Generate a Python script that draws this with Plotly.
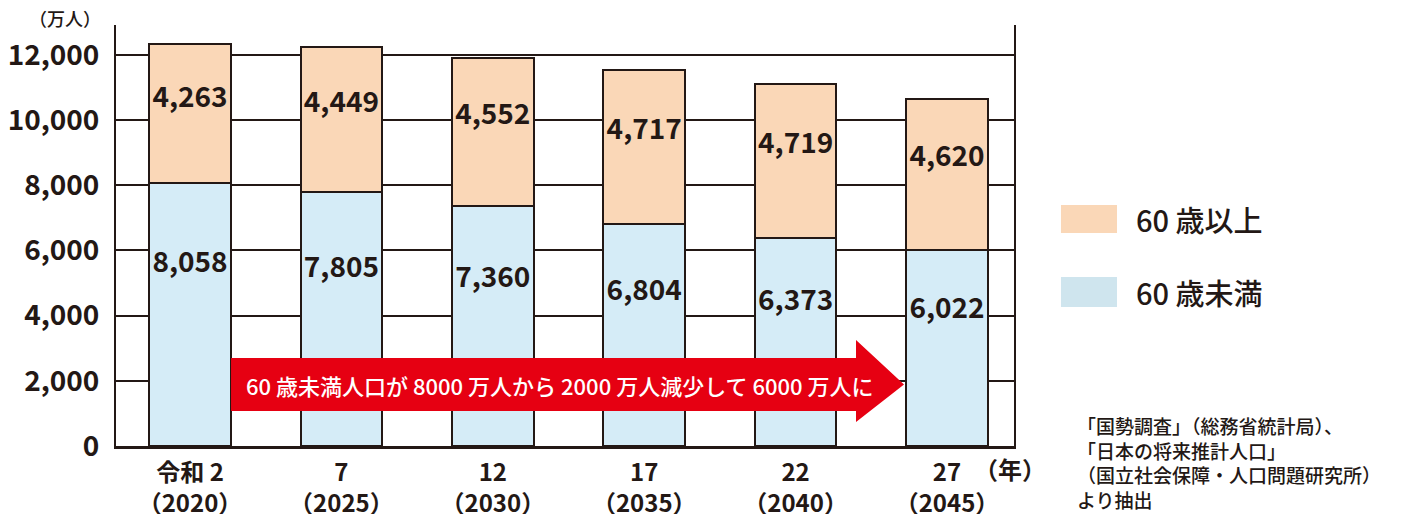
import plotly.graph_objects as go

# ---- data ----
year_labels = ["令和 2", "7", "12", "17", "22", "27"]
western_years = ["2020", "2025", "2030", "2035", "2040", "2045"]
under60 = [8058, 7805, 7360, 6804, 6373, 6022]
over60 = [4263, 4449, 4552, 4717, 4719, 4620]
series_names = ["60 歳以上", "60 歳未満"]
y_ticks = [0, 2000, 4000, 6000, 8000, 10000, 12000]
arrow_text = "60 歳未満人口が 8000 万人から 2000 万人減少して 6000 万人に"
source_lines = ["「国勢調査」（総務省統計局）、", "「日本の将来推計人口」",
                "（国立社会保障・人口問題研究所）", "より抽出"]

# ---- style ----
INK = "#231815"
PEACH = "#FAD7B7"
BLUE = "#D5ECF7"
LEG_BLUE = "#CFE5EE"
RED = "#E60012"
FONT = "Noto Sans CJK JP"

idx = list(range(len(year_labels)))
ticktext = [f"{a}<br>（{b}）" for a, b in zip(year_labels, western_years)]

fig = go.Figure()
fig.add_trace(go.Bar(x=idx, y=under60, name=series_names[1], width=0.54,
                     marker=dict(color=BLUE, line=dict(color=INK, width=2)),
                     showlegend=False))
fig.add_trace(go.Bar(x=idx, y=over60, base=under60, name=series_names[0], width=0.54,
                     marker=dict(color=PEACH, line=dict(color=INK, width=2)),
                     showlegend=False))

lab_font = dict(family=FONT, size=28, color=INK, weight="bold")
fig.add_trace(go.Scatter(x=idx, y=[v * 0.69 for v in under60], mode="text",
                         text=[f"{v:,}" for v in under60], textfont=lab_font,
                         showlegend=False, hoverinfo="skip"))
fig.add_trace(go.Scatter(x=idx, y=[u + o * 0.6 for u, o in zip(under60, over60)],
                         mode="text", text=[f"{v:,}" for v in over60], textfont=lab_font,
                         showlegend=False, hoverinfo="skip"))

# arrow (annotation graphic)
x0, x1, x2 = 0.271, 4.399, 4.716
yt, yb, ht, hb = 2699, 1074, 3252, 736
ym = (yt + yb) / 2
fig.add_shape(type="path",
              path=f"M {x0},{yt} L {x1},{yt} L {x1},{ht} L {x2},{ym} L {x1},{hb} L {x1},{yb} L {x0},{yb} Z",
              fillcolor=RED, line=dict(width=0), layer="above")
fig.add_annotation(x=2.444, y=ym, text=arrow_text, showarrow=False,
                   xanchor="center", yanchor="middle",
                   font=dict(family=FONT, size=22, color="white", weight=500))

# manual legend
sw = [(0.5724, 0.5059, PEACH, series_names[0]), (0.4014, 0.3302, LEG_BLUE, series_names[1])]
for ytop, ybot, col, name in sw:
    fig.add_shape(type="rect", xref="paper", yref="paper", x0=1.0523, x1=1.1147,
                  y0=ybot, y1=ytop, fillcolor=col, line=dict(width=0))
    fig.add_annotation(xref="paper", yref="paper", x=1.1336, y=(ytop + ybot) / 2,
                       xanchor="left", yanchor="middle", text=name, showarrow=False,
                       font=dict(family=FONT, size=29, color=INK, weight=500))

fig.add_annotation(xref="paper", yref="paper", x=1.068, y=0.085, xanchor="left",
                   yanchor="top", align="left", text="<br>".join(source_lines),
                   showarrow=False, font=dict(family=FONT, size=19, color=INK, weight=500))
fig.add_annotation(xref="paper", yref="paper", x=-0.0568, y=1.0166, text="（万人）",
                   showarrow=False, xanchor="center", yanchor="middle",
                   font=dict(family=FONT, size=18, color=INK, weight=500))
fig.add_annotation(xref="paper", yref="paper", x=0.9955, y=-0.0523, text="（年）",
                   showarrow=False, xanchor="center", yanchor="middle",
                   font=dict(family=FONT, size=24, color=INK, weight="bold"))

# page body has an 8px margin: shift figure size accordingly
fig.update_layout(
    width=1401, height=506, barmode="stack",
    margin=dict(l=108, r=395, t=17, b=68, autoexpand=False),
    paper_bgcolor="white", plot_bgcolor="white",
    font=dict(family=FONT, color=INK),
)
fig.update_xaxes(range=[-0.4888, 5.4425], tickvals=idx, ticktext=ticktext,
                 showline=True, linecolor=INK, linewidth=3, showgrid=False,
                 ticks="", ticklabelstandoff=3, automargin=False,
                 tickfont=dict(family=FONT, size=24, color=INK, weight="bold"))
fig.update_yaxes(range=[0, 12914], tickvals=y_ticks, tickformat=",",
                 showline=True, linecolor=INK, linewidth=2, mirror=True,
                 showgrid=True, gridcolor=INK, gridwidth=2, zeroline=False,
                 ticks="", ticklabelstandoff=9, automargin=False,
                 tickfont=dict(family=FONT, size=28, color=INK, weight="bold"))

fig.write_html("out.html")
